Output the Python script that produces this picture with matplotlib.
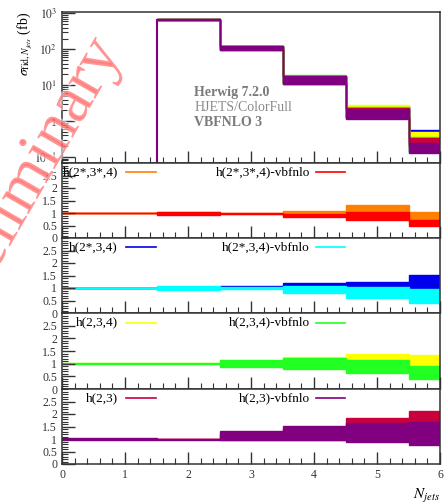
import numpy as np
import matplotlib
matplotlib.use("Agg")
import matplotlib.pyplot as plt
import matplotlib.patheffects as pe
from matplotlib.ticker import MultipleLocator, FixedLocator, FuncFormatter, LogLocator, NullFormatter

plt.rcParams["font.family"] = ["Liberation Serif", "DejaVu Serif"]
plt.rcParams["mathtext.fontset"] = "stix"

# -----------------------------------------
# Data
# -----------------------------------------

# main panel bins start at N_jets = 2 (edges 1.5 ... 6.5)
main_edges = [1.5, 2.5, 3.5, 4.5, 5.5, 6.5]
# ratio panels cover every bin
ratio_edges = [-0.5, 0.5, 1.5, 2.5, 3.5, 4.5, 5.5, 6.5]

names = ["h(2*,3*,4)", "h(2*,3*,4)-vbfnlo",
         "h(2*,3,4)", "h(2*,3,4)-vbfnlo",
         "h(2,3,4)", "h(2,3,4)-vbfnlo",
         "h(2,3)", "h(2,3)-vbfnlo"]

colors = ["#ff8000", "#ff0000",
          "#0000ee", "#00ffff",
          "#ffff00", "#22ff22",
          "#c8003c", "#800080"]

# cross section bands (fb), lower / upper edge per bin
sigma_lo = [
    [665, 100, 11.5, 1.30, 0.18],
    [660, 97, 11.0, 1.20, 0.14],
    [665, 100, 11.5, 1.30, 0.20],
    [660, 98, 11.0, 1.20, 0.14],
    [662, 100, 11.5, 1.30, 0.20],
    [662, 99, 11.0, 1.20, 0.15],
    [662, 100, 11.2, 1.30, 0.20],
    [660, 98, 10.8, 1.13, 0.13],
]
sigma_hi = [
    [690, 122, 17.5, 2.60, 0.45],
    [688, 120, 16.5, 2.30, 0.35],
    [710, 124, 18.0, 2.70, 0.56],
    [690, 122, 17.0, 2.40, 0.40],
    [690, 124, 18.6, 2.85, 0.50],
    [690, 124, 18.8, 2.55, 0.37],
    [690, 125, 17.6, 2.30, 0.33],
    [690, 127, 17.6, 2.16, 0.25],
]

# ratio bands, lower / upper edge per bin
ratio_lo = [
    [0.99, 0.99, 0.97, 0.96, 0.90, 0.80, 0.65],
    [0.99, 0.99, 0.92, 0.96, 0.83, 0.74, 0.47],
    [0.99, 0.99, 0.97, 1.00, 1.00, 0.90, 0.80],
    [0.99, 0.99, 0.93, 0.96, 0.79, 0.59, 0.41],
    [0.99, 0.99, 0.99, 0.95, 0.90, 0.80, 0.70],
    [0.99, 0.99, 0.99, 0.86, 0.78, 0.64, 0.41],
    [0.99, 0.99, 0.99, 0.98, 0.98, 0.95, 0.90],
    [0.97, 0.97, 0.98, 0.97, 0.97, 0.89, 0.78],
]
ratio_hi = [
    [1.01, 1.01, 1.03, 0.99, 1.09, 1.31, 1.03],
    [1.01, 1.01, 1.05, 0.99, 0.97, 1.03, 0.73],
    [1.01, 1.01, 1.05, 1.07, 1.21, 1.26, 1.53],
    [1.01, 1.01, 1.07, 1.03, 1.10, 1.03, 0.96],
    [1.01, 1.01, 1.01, 1.10, 1.26, 1.37, 1.33],
    [1.01, 1.01, 1.01, 1.14, 1.21, 1.16, 0.89],
    [1.01, 1.01, 1.02, 1.20, 1.40, 1.84, 2.12],
    [1.03, 1.03, 1.01, 1.31, 1.54, 1.65, 1.68],
]

ratio_ticks = [0, 0.5, 1, 1.5, 2, 2.5]
main_ticks = [0.1, 1, 10, 100, 1000]
main_tick_labels = [r"$10^{-1}$", "1", r"$10^{1}$", r"$10^{2}$", r"$10^{3}$"]
x_ticks = [0, 1, 2, 3, 4, 5, 6]

# -----------------------------------------
# Figure layout
# -----------------------------------------

fig = plt.figure(figsize=(4.44, 5.03), dpi=100)

W, H = 444.0, 503.0
left, right = 62, 440
tops = [12, 163, 238, 313, 389, 464]


def make_axes(top, bottom):
    return fig.add_axes([left / W, 1 - bottom / H, (right - left) / W, (bottom - top) / H])


ax_main = make_axes(tops[0], tops[1])
ratio_axes = [make_axes(tops[i], tops[i + 1]) for i in range(1, 5)]

spine_col = "#333333"
tick_kw = dict(direction="in", colors=spine_col, top=False, right=False)


def style(ax):
    for s in ax.spines.values():
        s.set_color(spine_col)
        s.set_linewidth(1.1)
    ax.tick_params(which="major", length=9, width=1.0, labelsize=8.5, **tick_kw)
    ax.tick_params(which="minor", length=4.5, width=0.8, **tick_kw)
    ax.set_xlim(0, 6)
    ax.xaxis.set_major_locator(FixedLocator(x_ticks))
    ax.xaxis.set_minor_locator(MultipleLocator(0.2))


# -----------------------------------------
# Main panel
# -----------------------------------------

style(ax_main)
ax_main.set_yscale("log")
ymin, ymax = 0.068, 1100
ax_main.set_ylim(ymin, ymax)

for i in range(len(names)):
    ax_main.stairs(sigma_hi[i], main_edges, baseline=sigma_lo[i], fill=True,
                   facecolor=colors[i], edgecolor=colors[i], lw=1.0)

# left edge of the first filled bin
ax_main.vlines(main_edges[0], ymin, sigma_hi[-1][0], color=colors[-1], lw=1.5)

ax_main.yaxis.set_major_locator(FixedLocator(main_ticks))
ax_main.yaxis.set_major_formatter(FuncFormatter(
    lambda v, p: main_tick_labels[main_ticks.index(v)] if v in main_ticks else ""))
ax_main.yaxis.set_minor_locator(LogLocator(base=10, subs=np.arange(2, 10)))
ax_main.yaxis.set_minor_formatter(NullFormatter())
ax_main.tick_params(labelbottom=False)
ax_main.set_ylabel(r"$\sigma_{\mathrm{fid},N_{jets}}$ (fb)", fontsize=10, loc="top")
ax_main.yaxis.set_label_coords(-0.075, 1.0)

ax_main.text(0.35, 0.47, "Herwig 7.2.0", transform=ax_main.transAxes,
             fontsize=10, fontweight="bold", color="#7a7a7a", va="center")
ax_main.text(0.35, 0.37, "HJETS/ColorFull", transform=ax_main.transAxes,
             fontsize=10, color="#8a8a8a", va="center")
ax_main.text(0.35, 0.265, "VBFNLO 3", transform=ax_main.transAxes,
             fontsize=10, fontweight="bold", color="#7a7a7a", va="center")

# -----------------------------------------
# Ratio panels
# -----------------------------------------

for k, ax in enumerate(ratio_axes):
    style(ax)
    ax.set_ylim(0, 3)
    ax.yaxis.set_major_locator(FixedLocator(ratio_ticks))
    ax.yaxis.set_major_formatter(FuncFormatter(lambda v, p: f"{v:g}"))
    ax.yaxis.set_minor_locator(MultipleLocator(0.1))

    for i in (2 * k, 2 * k + 1):
        ax.stairs(ratio_hi[i], ratio_edges, baseline=ratio_lo[i], fill=True,
                  facecolor=colors[i], edgecolor=colors[i], lw=1.0)

    # legend row: label then line sample
    ly = 0.875
    ax.text(0.148, ly, names[2 * k], transform=ax.transAxes, fontsize=9.5,
            ha="right", va="center")
    ax.plot([0.169, 0.249], [ly, ly], color=colors[2 * k], lw=1.2, transform=ax.transAxes)
    ax.text(0.656, ly, names[2 * k + 1], transform=ax.transAxes, fontsize=9.5,
            ha="right", va="center")
    ax.plot([0.672, 0.749], [ly, ly], color=colors[2 * k + 1], lw=1.2, transform=ax.transAxes)

    if k < 3:
        ax.tick_params(labelbottom=False)

ratio_axes[-1].set_xlabel(r"$N_{jets}$", fontsize=11, loc="right")
ratio_axes[-1].xaxis.set_label_coords(1.0, -0.3)

# -----------------------------------------
# Watermark
# -----------------------------------------

fig.text(122 / W, 1 - 52 / H, "Preliminary", fontsize=48, color="#ff6060", alpha=0.55,
         rotation=60, rotation_mode="anchor", ha="right", va="baseline", zorder=10,
         path_effects=[pe.withStroke(linewidth=2.5, foreground="white")])

fig.savefig("out.png", dpi=100)
